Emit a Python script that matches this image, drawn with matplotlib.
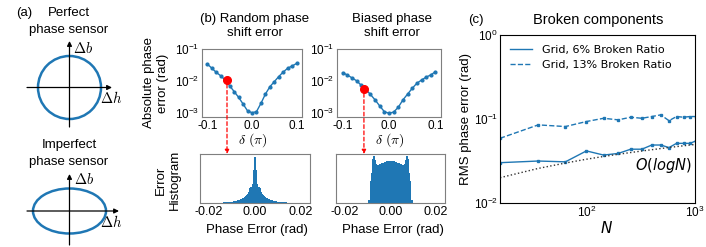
import numpy as np
import matplotlib
matplotlib.use("Agg")
import matplotlib.pyplot as plt
from matplotlib.patches import Ellipse, FancyArrowPatch

plt.rcParams['font.family'] = ['Liberation Sans', 'DejaVu Sans']
plt.rcParams['axes.unicode_minus'] = False

BLUE = '#1f77b4'

# (b) absolute phase error vs delta
delta = [-0.10, -0.09, -0.08, -0.07, -0.06, -0.05, -0.04, -0.03, -0.02, -0.01, 0.0,
         0.01, 0.02, 0.03, 0.04, 0.05, 0.06, 0.07, 0.08, 0.09, 0.10]
err_random = [0.0339, 0.0251, 0.0186, 0.0145, 0.0107, 0.00708, 0.00468, 0.00309, 0.00191,
              0.00117, 0.00102, 0.00110, 0.00200, 0.00389, 0.00661, 0.00955, 0.0138,
              0.0191, 0.0251, 0.0295, 0.0355]
err_biased = [0.0182, 0.0155, 0.0126, 0.0102, 0.00741, 0.00550, 0.00380, 0.00257, 0.00166,
              0.00110, 0.00098, 0.00107, 0.00151, 0.00257, 0.00389, 0.00589, 0.00851,
              0.0107, 0.0132, 0.0155, 0.0195]
red_random = (-0.056, 0.0107)
red_biased = (-0.054, 0.0055)

# (b) error histograms, bins of 0.0005 rad from -0.02 to 0.02 (normalised heights)
hist_random_pos = [0.94, 0.67, 0.38, 0.33, 0.30, 0.22, 0.19, 0.16, 0.14, 0.12,
                   0.105, 0.09, 0.08, 0.07, 0.06, 0.052, 0.045, 0.04, 0.035, 0.03,
                   0.027, 0.024, 0.021, 0.018, 0.016, 0.014, 0.012, 0.011, 0.010, 0.009,
                   0.008, 0.007, 0.006, 0.006, 0.005, 0.005, 0.004, 0.004, 0.003, 0.003]
hist_random = hist_random_pos[::-1] + hist_random_pos
hist_biased = [0.0] * 20 + [
    0.07, 0.07, 0.45, 0.62, 0.90, 0.95, 0.88, 0.80, 0.78, 0.78,
    0.79, 0.80, 0.81, 0.82, 0.83, 0.84, 0.85, 0.85, 0.85, 0.85,
    0.85, 0.85, 0.85, 0.85, 0.84, 0.83, 0.82, 0.81, 0.80, 0.79,
    0.78, 0.78, 0.80, 0.88, 0.95, 0.90, 0.62, 0.45, 0.07, 0.07] + [0.0] * 20
hist_edges = np.linspace(-0.02, 0.02, 81)

# (c) broken components
N = [16, 36, 64, 100, 144, 196, 256, 324, 400, 484, 576, 676, 784, 900, 1024]
rms_6 = [0.0302, 0.0316, 0.0309, 0.0417, 0.0372, 0.0389, 0.0437, 0.0437, 0.0490,
         0.0490, 0.0457, 0.0513, 0.0513, 0.0513, 0.0550]
rms_13 = [0.0589, 0.0851, 0.0813, 0.0933, 0.102, 0.0977, 0.105, 0.102, 0.107,
          0.112, 0.0955, 0.107, 0.105, 0.107, 0.107]
ologn = [0.0200, 0.0258, 0.0299, 0.0332, 0.0358, 0.0380, 0.0399, 0.0416, 0.0431,
         0.0445, 0.0458, 0.0469, 0.0480, 0.0490, 0.0499]

W, H = 706, 247
fig = plt.figure(figsize=(W / 100, H / 100), dpi=100)


def box(x0, y0, x1, y1):
    # pixel box -> figure fraction rect
    return [x0 / W, 1 - y1 / H, (x1 - x0) / W, (y1 - y0) / H]


def ftext(x, y, s, **kw):
    fig.text(x / W, 1 - y / H, s, ha='center', va='center', **kw)


# ---------------- (a) sketches ----------------
ax_a = fig.add_axes([0, 0, 120 / W, 1])
ax_a.set_xlim(0, 120)
ax_a.set_ylim(H, 0)
ax_a.axis('off')
for cy, w, h, top, bot, left, right in [(87.5, 63, 63, 41, 127, 27, 112),
                                        (211, 73, 45, 174, 245, 27, 119)]:
    ax_a.annotate('', xy=(right, cy), xytext=(left, cy),
                  arrowprops=dict(arrowstyle='-|>', color='black', lw=0.9,
                                  mutation_scale=7, shrinkA=0, shrinkB=0))
    ax_a.annotate('', xy=(69.5, top), xytext=(69.5, bot),
                  arrowprops=dict(arrowstyle='-|>', color='black', lw=0.9,
                                  mutation_scale=7, shrinkA=0, shrinkB=0))
    ax_a.add_patch(Ellipse((69.5, cy), w, h, fill=False, ec=BLUE, lw=1.8))
ftext(24, 13, '(a)', fontsize=9.5)
ftext(69, 13, 'Perfect', fontsize=9.5)
ftext(69, 30, 'phase sensor', fontsize=9.5)
ftext(69, 145, 'Imperfect', fontsize=9.5)
ftext(69, 162, 'phase sensor', fontsize=9.5)
for x, y, s in [(83, 48, r'$\Delta b$'), (111, 98, r'$\Delta h$'),
                (84, 179, r'$\Delta b$'), (111, 222, r'$\Delta h$')]:
    ftext(x, y, s, fontsize=10.5, math_fontfamily='cm')

# ---------------- (b) ----------------
gray = '#7f7f7f'
tops = []
for rect, errs, red, title in [((202, 49, 302, 117), err_random, red_random,
                                '(b) Random phase\nshift error'),
                               ((337, 49, 441, 117), err_biased, red_biased,
                                'Biased phase\nshift error')]:
    ax = fig.add_axes(box(*rect))
    ax.plot(delta, errs, '-o', color=BLUE, lw=1.0, ms=2)
    ax.plot([red[0]], [red[1]], 'o', color='red', ms=5.5, zorder=5)
    ax.set_yscale('log')
    ax.set_ylim(10 ** -3.125, 0.1)
    ax.set_xlim(-0.112, 0.112)
    ax.set_xticks([-0.1, 0.0, 0.1])
    ax.set_xticklabels(['-0.1', '0.0', '0.1'])
    ax.set_yticks([1e-3, 1e-2, 1e-1])
    ax.minorticks_off()
    ax.tick_params(length=0, labelsize=8.5, pad=2)
    for s in ax.spines.values():
        s.set_color(gray)
    cx = (rect[0] + rect[2]) / 2
    ftext(cx + 3, 26, title, fontsize=9.5, linespacing=1.15)
    ftext(cx + 1, 140, r'$\delta\ (\pi)$', fontsize=10, math_fontfamily='cm')
    tops.append((ax, red))

ftext(156, 83, 'Absolute phase\nerror (rad)', fontsize=9.5, rotation=90, linespacing=1.15)
ftext(168, 180, 'Error\nHistogram', fontsize=9.5, rotation=90, linespacing=1.15)

for (rect, vals), (ax_top, red) in zip([((200, 154, 310, 203), hist_random),
                                        ((336, 154, 445, 203), hist_biased)], tops):
    ax = fig.add_axes(box(*rect))
    ax.stairs(vals, hist_edges, fill=True, color=BLUE)
    ax.set_xlim(-0.024, 0.024)
    ax.set_ylim(0, 1.0)
    ax.set_yticks([])
    ax.set_xticks([-0.02, 0.0, 0.02])
    ax.set_xticklabels(['-0.02', '0.00', '0.02'])
    ax.tick_params(length=0, labelsize=9, pad=2)
    for s in ax.spines.values():
        s.set_color(gray)
    cx = (rect[0] + rect[2]) / 2
    ftext(cx + 2, 230, 'Phase Error (rad)', fontsize=9.5)
    # red dashed arrow from the highlighted point down to the histogram
    px, py = fig.transFigure.inverted().transform(ax_top.transData.transform(red))
    arr = FancyArrowPatch((px, py), (px, 1 - rect[1] / H), transform=fig.transFigure,
                          arrowstyle='-|>', mutation_scale=6, color='red', lw=0.9,
                          linestyle=(0, (3, 2)), shrinkA=3, shrinkB=0)
    fig.add_artist(arr)

# ---------------- (c) ----------------
ax_c = fig.add_axes(box(500, 35, 695, 203))
ax_c.plot(N, rms_6, '-s', color=BLUE, lw=1.0, ms=1.5)
ax_c.plot(N, rms_13, '--s', color=BLUE, lw=1.0, ms=1.5)
ax_c.plot([], [], '-', color=BLUE, lw=1.0, label='Grid, 6% Broken Ratio')
ax_c.plot([], [], '--', color=BLUE, lw=1.0, label='Grid, 13% Broken Ratio')
ax_c.plot(N, ologn, ':', color='#333333', lw=1.0)
ax_c.set_xscale('log')
ax_c.set_yscale('log')
ax_c.set_xlim(16, 1000)
ax_c.set_ylim(1e-2, 1)
ax_c.tick_params(which='both', length=0, labelsize=8.5, pad=1.5)
ax_c.minorticks_off()
ax_c.legend(loc='upper left', frameon=False, bbox_to_anchor=(0.0, 1.0),
            prop={'family': 'DejaVu Sans', 'size': 8}, handlelength=2.0,
            handletextpad=0.9, labelspacing=0.45, borderaxespad=0.5)
ax_c.text(0.985, 0.225, r'$O(logN)$', transform=ax_c.transAxes, ha='right',
          va='center', fontsize=10.5, math_fontfamily='dejavusans')
ftext(476, 20, '(c)', fontsize=9.5)
ftext(598, 20, 'Broken components', fontsize=10.5)
ftext(466, 119, 'RMS phase error (rad)', fontsize=9.5, rotation=90)
ftext(607, 228, r'$N$', fontsize=11, math_fontfamily='dejavusans')

fig.savefig('out.png', dpi=100)
